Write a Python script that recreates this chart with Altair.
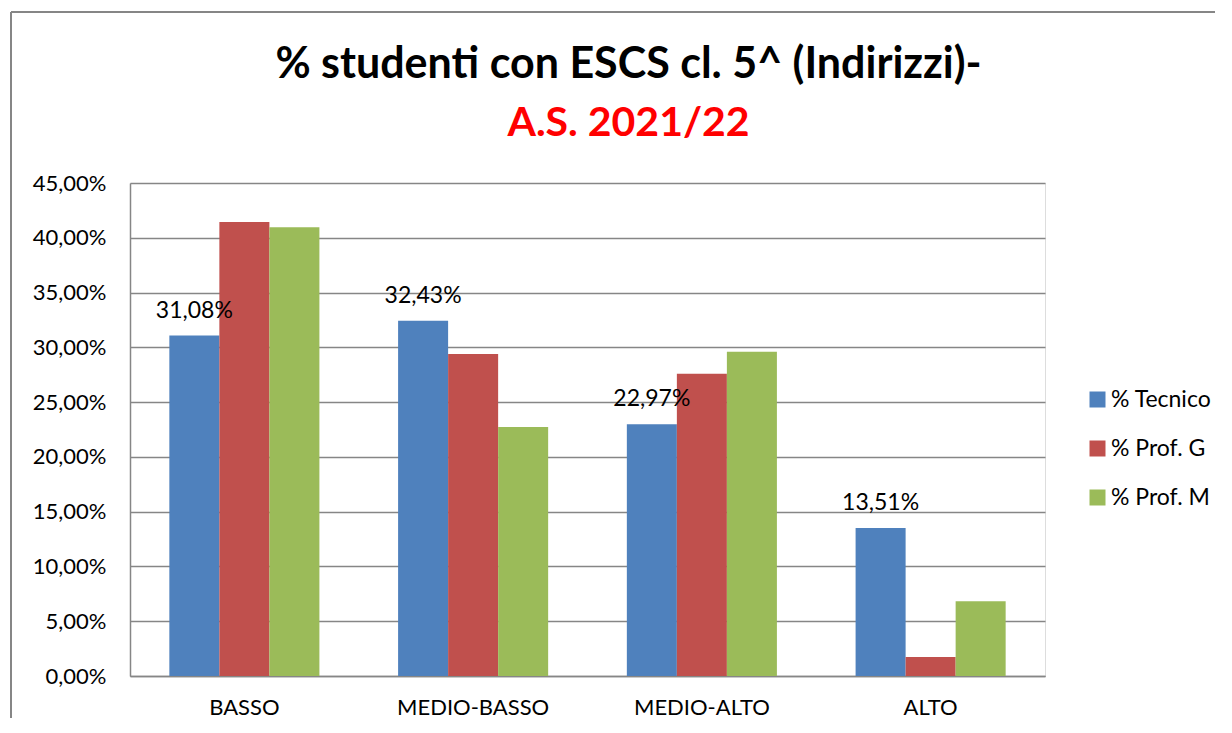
import altair as alt
import pandas as pd

categories = ["BASSO", "MEDIO-BASSO", "MEDIO-ALTO", "ALTO"]
series = ["% Tecnico", "% Prof. G", "% Prof. M"]
tecnico = [31.08, 32.43, 22.97, 13.51]
prof_g = [41.43, 29.40, 27.58, 1.74]
prof_m = [40.95, 22.73, 29.59, 6.83]
colors = ["#4F81BD", "#C0504D", "#9BBB59"]
y_ticks = [0, 5, 10, 15, 20, 25, 30, 35, 40, 45]

rows = []
for s, vals in zip(series, [tecnico, prof_g, prof_m]):
    for c, v in zip(categories, vals):
        rows.append({"cat": c, "series": s, "v": v})
df = pd.DataFrame(rows)

FONT = "Lato"
GRID = "#868686"

x_enc = alt.X("cat:N", sort=categories, title=None,
              scale=alt.Scale(paddingInner=0.344, paddingOuter=0.172),
              axis=alt.Axis(labelAngle=0, labelFontSize=22, labelFont=FONT, labelColor="black",
                            ticks=False, labelPadding=21, domainColor=GRID, domainWidth=1.5))
xoff = alt.XOffset("series:N", sort=series,
                   scale=alt.Scale(domain=series, paddingInner=0, paddingOuter=0))
y_enc = alt.Y("v:Q", title=None,
              scale=alt.Scale(domain=[0, 45], nice=False),
              axis=alt.Axis(values=y_ticks, labelExpr="replace(format(datum.value, '.2f'), '.', ',') + '%'",
                            labelFontSize=22, labelFont=FONT, labelColor="black", ticks=False,
                            labelPadding=24, gridColor=GRID, gridWidth=1.5,
                            domainColor=GRID, domainWidth=1.5))

bars = alt.Chart(df).mark_bar().encode(
    x=x_enc, xOffset=xoff, y=y_enc,
    color=alt.Color("series:N", sort=series,
                    scale=alt.Scale(domain=series, range=colors),
                    legend=alt.Legend(orient="none", legendX=956, legendY=205, title=None,
                                      symbolType="square", symbolSize=256, symbolStrokeWidth=0,
                                      labelFontSize=23, labelFont=FONT, labelColor="black",
                                      rowPadding=25, labelOffset=2)),
)

labels = alt.Chart(df).transform_filter(
    alt.datum.series == "% Tecnico"
).transform_calculate(
    lab="replace(format(datum.v, '.2f'), '.', ',') + '%'"
).mark_text(font=FONT, fontSize=23, color="black", dy=-18, baseline="alphabetic").encode(
    x=alt.X("cat:N", sort=categories), xOffset=xoff, y="v:Q", text="lab:N"
)

border_df = pd.DataFrame({"a": [0]})
border_v = alt.Chart(border_df).mark_rule(color=GRID, strokeWidth=2).encode(
    x=alt.value(-119), y=alt.value(-171), y2=alt.value(535))
border_h = alt.Chart(border_df).mark_rule(color=GRID, strokeWidth=2).encode(
    x=alt.value(-119), x2=alt.value(1085), y=alt.value(-171))

chart = alt.layer(bars, labels, border_v, border_h).properties(
    width=915, height=493,
    title=alt.TitleParams(
        text="% studenti con ESCS cl. 5^ (Indirizzi)-",
        subtitle="A.S. 2021/22",
        font=FONT, fontSize=43, fontWeight="bold", color="black",
        subtitleFont=FONT, subtitleFontSize=41, subtitleFontWeight="bold", subtitleColor="#FF0000",
        subtitlePadding=17, anchor="middle", dx=41, offset=-133, frame="group",
    ),
    autosize=alt.AutoSizeParams(type="none"),
    padding={"left": 122, "top": 175, "right": 179, "bottom": 49},
).configure_view(strokeWidth=0).configure(background="white")

chart.save("out.html", embed_options={"renderer": "svg", "actions": False})
